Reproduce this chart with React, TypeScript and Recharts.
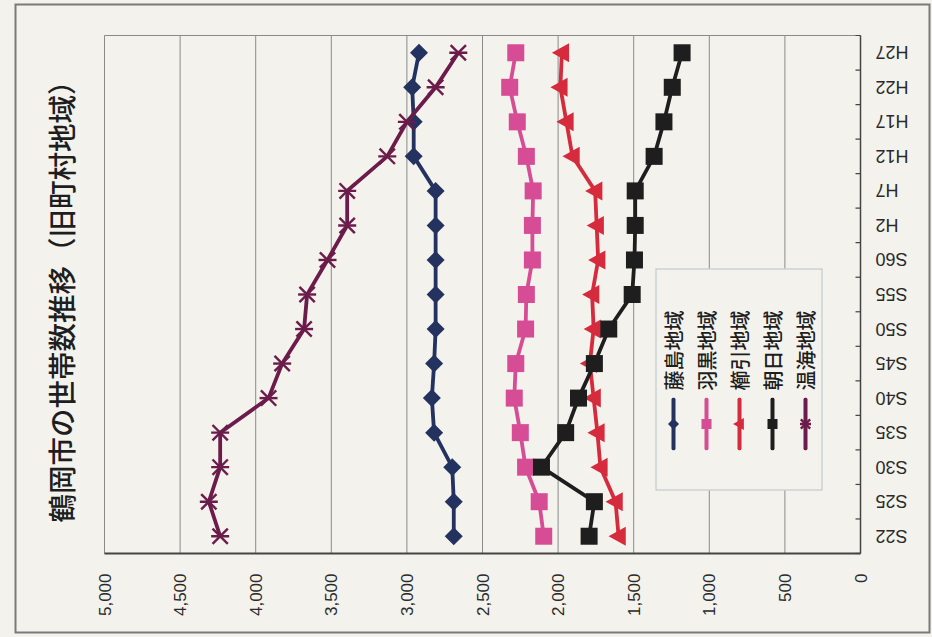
import { LineChart, Line, XAxis, YAxis, CartesianGrid, Legend } from 'recharts';

// 世帯数 (旧町村地域別)
const categories = ['S22', 'S25', 'S30', 'S35', 'S40', 'S45', 'S50', 'S55', 'S60', 'H2', 'H7', 'H12', 'H17', 'H22', 'H27'];
const fujishima = [2690, 2690, 2700, 2820, 2835, 2820, 2810, 2810, 2810, 2810, 2810, 2955, 2955, 2965, 2920];
const haguro = [2095, 2125, 2215, 2250, 2290, 2280, 2215, 2210, 2170, 2170, 2165, 2210, 2270, 2320, 2280];
const kushibiki = [1600, 1620, 1720, 1740, 1765, 1790, 1765, 1775, 1735, 1745, 1755, 1905, 1945, 1985, 1975];
const asahi = [1795, 1760, 2110, 1950, 1865, 1760, 1665, 1510, 1495, 1490, 1490, 1365, 1300, 1245, 1180];
const atsumi = [4235, 4310, 4235, 4235, 3915, 3825, 3680, 3660, 3525, 3395, 3395, 3130, 3000, 2810, 2660];
const valueTicks = [0, 500, 1000, 1500, 2000, 2500, 3000, 3500, 4000, 4500, 5000];

const series = [
  { key: 'fujishima', name: '藤島地域', color: '#24325f', marker: 'diamond', values: fujishima },
  { key: 'haguro', name: '羽黒地域', color: '#d64d95', marker: 'square', values: haguro },
  { key: 'kushibiki', name: '櫛引地域', color: '#d52b3d', marker: 'triangle', values: kushibiki },
  { key: 'asahi', name: '朝日地域', color: '#1e1e1e', marker: 'square', values: asahi },
  { key: 'atsumi', name: '温海地域', color: '#6b1c4a', marker: 'star', values: atsumi },
];

const data = categories.map((year, i) => {
  const row: Record<string, string | number> = { year };
  series.forEach((s) => {
    row[s.key] = s.values[i];
  });
  return row;
});

const PAPER = '#f3f2ed';
const W = 637;
const H = 932;
const HALF_BAND = 17.27;
const JP_FONT = '"Noto Sans CJK JP", "Noto Sans", sans-serif';
const NUM_FONT = '"Liberation Sans", Arial, sans-serif';

const Marker = ({ shape, cx, cy, color, s = 9 }: { shape: string; cx: number; cy: number; color: string; s?: number }) => {
  if (shape === 'diamond') {
    return <polygon points={`${cx},${cy - s} ${cx + s},${cy} ${cx},${cy + s} ${cx - s},${cy}`} fill={color} />;
  }
  if (shape === 'square') {
    return <rect x={cx - s + 0.5} y={cy - s + 0.5} width={2 * s - 1} height={2 * s - 1} fill={color} />;
  }
  if (shape === 'triangle') {
    return <polygon points={`${cx},${cy - s - 1} ${cx + s + 0.5},${cy + s * 0.8} ${cx - s - 0.5},${cy + s * 0.8}`} fill={color} />;
  }
  const d = s * 0.85;
  return (
    <g stroke={color} strokeWidth={2.4}>
      <line x1={cx - d} y1={cy - d} x2={cx + d} y2={cy + d} />
      <line x1={cx - d} y1={cy + d} x2={cx + d} y2={cy - d} />
      <line x1={cx} y1={cy - s} x2={cx} y2={cy + s} />
    </g>
  );
};

const CategoryTick = (props: any) => {
  const { x, y, payload, index, visibleTicksCount } = props;
  const axisY = y - 15;
  return (
    <g>
      <line x1={x - HALF_BAND} y1={axisY} x2={x - HALF_BAND} y2={axisY - 5} stroke="#444" strokeWidth={1.2} />
      {index === visibleTicksCount - 1 && (
        <line x1={x + HALF_BAND} y1={axisY} x2={x + HALF_BAND} y2={axisY - 5} stroke="#444" strokeWidth={1.2} />
      )}
      <text
        x={x}
        y={y}
        dy="0.36em"
        transform={`rotate(-90 ${x} ${y})`}
        textAnchor="end"
        fill="#2a2a2a"
        fontSize={18}
        fontFamily={NUM_FONT}
      >
        {payload.value}
      </text>
    </g>
  );
};

const LegendBox = () => (
  <div
    style={{
      width: 222,
      height: 167,
      boxSizing: 'border-box',
      border: '1.5px solid #b7c2c7',
      background: PAPER,
      paddingTop: 0.5,
    }}
  >
    {series.map((s) => (
      <div key={s.key} style={{ display: 'flex', alignItems: 'center', height: 33 }}>
        <svg width={53} height={20} style={{ marginLeft: 39, display: 'block' }}>
          <line x1={2} y1={10} x2={51} y2={10} stroke={s.color} strokeWidth={4} strokeLinecap="round" />
          <Marker shape={s.marker} cx={26.5} cy={10} color={s.color} s={5.5} />
        </svg>
        <span style={{ marginLeft: 7, fontSize: 20, fontWeight: 500, fontFamily: JP_FONT, color: '#1e1e1e', lineHeight: 1 }}>
          {s.name}
        </span>
      </div>
    ))}
  </div>
);

export default function App() {
  return (
    <div style={{ position: 'absolute', left: 0, top: 0, width: 932, height: 637, background: PAPER, overflow: 'hidden' }}>
      <div
        style={{
          position: 'absolute',
          width: W,
          height: H,
          left: (932 - W) / 2,
          top: (637 - H) / 2,
          transform: 'rotate(-90deg)',
        }}
      >
        <div
          style={{
            position: 'absolute',
            left: 4,
            top: 14,
            width: 630,
            height: 916,
            boxSizing: 'border-box',
            border: '2px solid #7a7a7a',
          }}
        />
        <div
          style={{
            position: 'absolute',
            left: 60,
            width: 566,
            top: 45,
            textAlign: 'center',
            fontFamily: JP_FONT,
            fontSize: 28.5,
            fontWeight: 500,
            lineHeight: '30px',
            color: '#1e1e1e',
            whiteSpace: 'nowrap',
          }}
        >
          鶴岡市の世帯数推移（旧町村地域）
        </div>
        <div style={{ position: 'absolute', left: 0, top: 0 }}>
          <LineChart width={W} height={H} data={data} margin={{ top: 104, right: 35, bottom: 12, left: 0 }}>
            <CartesianGrid
              stroke="#8a8a8a"
              strokeWidth={1}
              vertical
              verticalCoordinatesGenerator={({ offset }: any) => [offset.left + offset.width]}
            />
            <XAxis
              dataKey="year"
              type="category"
              height={60}
              padding={{ left: HALF_BAND, right: HALF_BAND }}
              axisLine={{ stroke: '#444', strokeWidth: 1.5 }}
              tickLine={false}
              tickSize={0}
              tickMargin={15}
              interval={0}
              tick={<CategoryTick />}
            />
            <YAxis
              type="number"
              domain={[0, 5000]}
              ticks={valueTicks}
              width={84}
              axisLine={{ stroke: '#444', strokeWidth: 1.8 }}
              tickLine={false}
              tickSize={0}
              tickMargin={20}
              tickFormatter={(v: number) => v.toLocaleString('en-US')}
              tick={{ fill: '#2a2a2a', fontSize: 17, fontFamily: NUM_FONT }}
            />
            <Legend
              layout="vertical"
              align="center"
              verticalAlign="middle"
              content={<LegendBox />}
              wrapperStyle={{ left: 147, top: 655, width: 222, height: 167 }}
            />
            {series.map((s) => (
              <Line
                key={s.key}
                dataKey={s.key}
                name={s.name}
                stroke={s.color}
                strokeWidth={3.8}
                isAnimationActive={false}
                dot={(p: any) => (
                  <Marker key={`${s.key}-${p.index}`} shape={s.marker} cx={p.cx} cy={p.cy} color={s.color} />
                )}
                activeDot={false}
              />
            ))}
          </LineChart>
        </div>
      </div>
    </div>
  );
}
